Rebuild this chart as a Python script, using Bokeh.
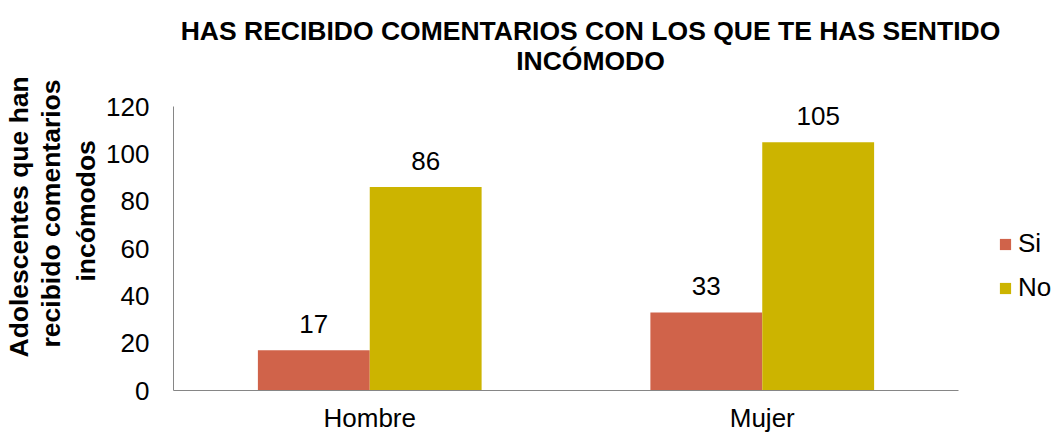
from bokeh.plotting import figure
from bokeh.models import (ColumnDataSource, Range1d, FixedTicker, Title, Label,
                          LabelSet, Legend, LegendItem)
from bokeh.transform import dodge
from bokeh.embed import file_html
from bokeh.resources import INLINE
from bokeh.core.properties import value

categories = ["Hombre", "Mujer"]
si_values = [17, 33]
no_values = [86, 105]
y_ticks = [0, 20, 40, 60, 80, 100, 120]
series_names = ["Si", "No"]
series_colors = ["#D0634A", "#CCB400"]
title_lines = ["HAS RECIBIDO COMENTARIOS CON LOS QUE TE HAS SENTIDO", "INCÓMODO"]
ylabel_lines = ["Adolescentes que han", "recibido comentarios", "incómodos"]

FONT = "Liberation Sans"
FS = "26px"
AXIS_GRAY = "#868686"

# layout constants (pixels)
W, H = 1053, 435
LEFT, AXIS_RIGHT, AXIS_TOP, AXIS_BOTTOM = 173, 958, 107, 393
cat_px = (AXIS_RIGHT - LEFT) / len(categories)          # pixels per category slot
n = len(categories)
cat_pos = [i + 0.5 for i in range(n)]                    # category centres on the scale
x_end = n + (W - AXIS_RIGHT) / cat_px
y_end = y_ticks[-1] * AXIS_BOTTOM / (AXIS_BOTTOM - AXIS_TOP)

src = ColumnDataSource(dict(
    x=cat_pos,
    cat=categories,
    si=si_values,
    no=no_values,
    si_txt=[str(v) for v in si_values],
    no_txt=[str(v) for v in no_values],
))

p = figure(x_range=Range1d(0, x_end), y_range=Range1d(0, y_end),
           width=W, height=H, output_backend="svg", toolbar_location=None,
           min_border_left=LEFT, min_border_right=0, min_border_top=0,
           min_border_bottom=H - AXIS_BOTTOM)

p.outline_line_color = None
p.xgrid.grid_line_color = None
p.ygrid.grid_line_color = None
p.background_fill_color = "white"
p.border_fill_color = "white"

BW = 0.285
r_si = p.vbar(x=dodge("x", -BW / 2), top="si", width=BW, source=src,
              fill_color=series_colors[0], line_color=None)
r_no = p.vbar(x=dodge("x", BW / 2), top="no", width=BW, source=src,
              fill_color=series_colors[1], line_color=None)

# data labels
for col, txt, off in [("si", "si_txt", -BW / 2), ("no", "no_txt", BW / 2)]:
    p.add_layout(LabelSet(x=dodge("x", off), y=col, text=txt, source=src,
                          y_offset=17, text_align="center", text_baseline="alphabetic",
                          text_font=value(FONT), text_font_size=FS, text_color="black"))

# x axis (categories)
p.xaxis.ticker = FixedTicker(ticks=cat_pos)
p.xaxis.major_label_overrides = {pos: c for pos, c in zip(cat_pos, categories)}
p.xaxis.bounds = (0, n)
p.xaxis.axis_line_color = AXIS_GRAY
p.xaxis.major_tick_line_color = None
p.xaxis.minor_tick_line_color = None
p.xaxis.major_tick_out = 0
p.xaxis.major_tick_in = 0
p.xaxis.major_label_standoff = 12
p.xaxis.major_label_text_font = FONT
p.xaxis.major_label_text_font_size = FS
p.xaxis.major_label_text_color = "black"

# y axis
p.yaxis.ticker = FixedTicker(ticks=y_ticks)
p.yaxis.bounds = (y_ticks[0], y_ticks[-1])
p.yaxis.axis_line_color = AXIS_GRAY
p.yaxis.major_tick_line_color = None
p.yaxis.minor_tick_line_color = None
p.yaxis.major_tick_out = 0
p.yaxis.major_tick_in = 0
p.yaxis.major_label_standoff = 24
p.yaxis.major_label_text_font = FONT
p.yaxis.major_label_text_font_size = FS
p.yaxis.major_label_text_color = "black"

# chart title (inside the frame, above the bars)
for line, base in zip(title_lines, [33.3, 63.5]):
    p.add_layout(Label(x=0, y=0, x_offset=590 - LEFT, y_offset=AXIS_BOTTOM - base, text=line,
                       text_align="center", text_baseline="alphabetic",
                       text_font=FONT, text_font_size="26.5px", text_font_style="bold",
                       text_color="black"))

# y axis title: one Title per line in the left panel, nearest-to-axis first
for line, bottom, so in zip(reversed(ylabel_lines), [284, 350, 360], [6, 0, 0]):
    p.add_layout(Title(text=line, align="left", offset=AXIS_BOTTOM - bottom, standoff=so,
                       text_font=FONT, text_font_size="26.5px", text_font_style="bold",
                       text_color="black", text_line_height=0.9), "left")

legend = Legend(items=[LegendItem(label=series_names[0], renderers=[r_si]),
                       LegendItem(label=series_names[1], renderers=[r_no])],
                location=(998 - LEFT, 87), orientation="vertical",
                glyph_width=14, glyph_height=14, label_height=30, spacing=13,
                label_standoff=6, padding=0, margin=0,
                label_text_font=FONT, label_text_font_size=FS, label_text_color="black",
                border_line_color=None, background_fill_color=None)
p.add_layout(legend)

open("out.html", "w").write(file_html(p, INLINE))
